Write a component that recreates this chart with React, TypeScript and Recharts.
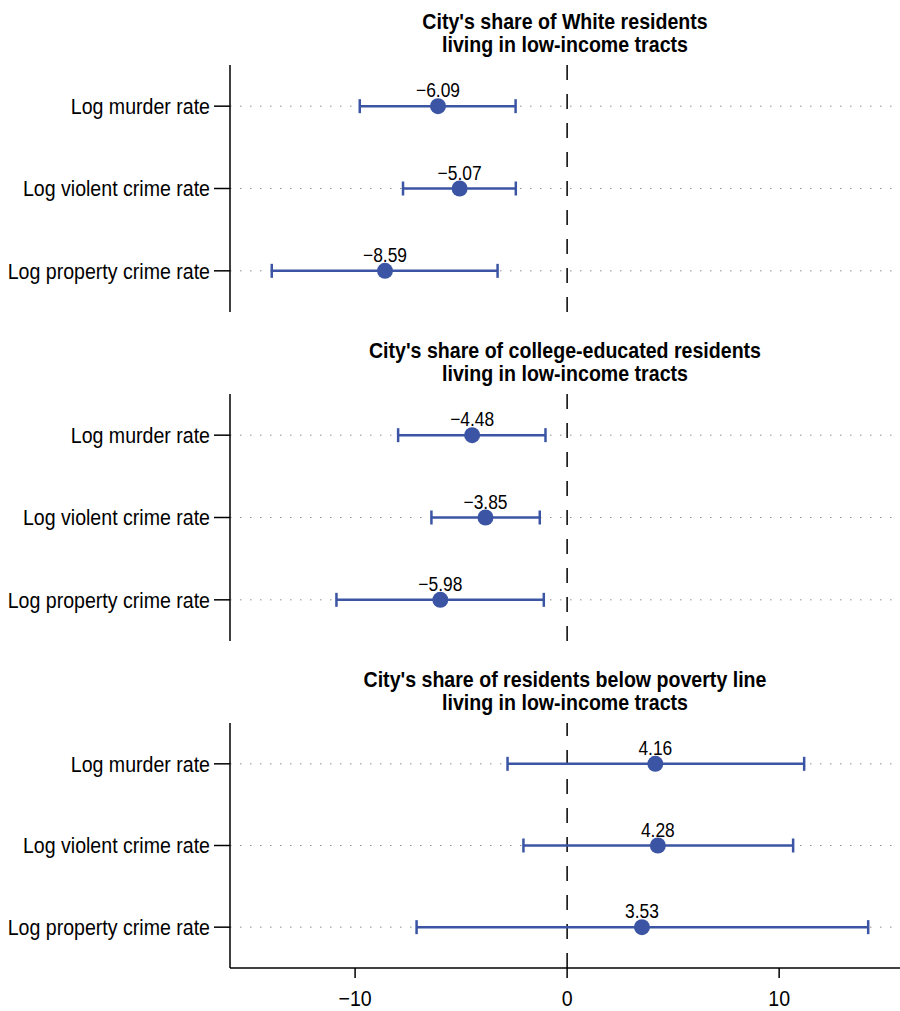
import React from 'react';
import {
  ErrorBar,
  LabelList,
  ReferenceLine,
  Scatter,
  ScatterChart,
  XAxis,
  YAxis
} from 'recharts';

const rowLabels = ['Log murder rate', 'Log violent crime rate', 'Log property crime rate'];
const rowIndex = [0, 1, 2];
const xTicks = [-10, 0, 10];

const whiteEst = [-6.09, -5.07, -8.59];
const whiteLow = [-9.78, -7.74, -13.93];
const whiteHigh = [-2.43, -2.42, -3.28];

const collegeEst = [-4.48, -3.85, -5.98];
const collegeLow = [-7.97, -6.4, -10.88];
const collegeHigh = [-1.02, -1.29, -1.1];

const povertyEst = [4.16, 4.28, 3.53];
const povertyLow = [-2.81, -2.06, -7.1];
const povertyHigh = [11.18, 10.66, 14.2];

const FONT = '"Liberation Sans", Arial, Helvetica, sans-serif';
const BLUE = '#3b55a4';

const minus = (s: string): string => s.replace('-', '\u2212');
const fmt = (v: number): string => minus(v.toFixed(2));

function buildRows(est: number[], low: number[], high: number[]) {
  return est.map((e, i) => ({
    x: e,
    y: i,
    err: [e - low[i], high[i] - e],
    label: fmt(e)
  }));
}

// text is narrower in the original, so squeeze it horizontally
function YTick(props: any): React.ReactElement {
  const { x, y, payload } = props;
  return (
    <g transform={`translate(${x - 2},${y})`}>
      <text transform="scale(0.89,1)" textAnchor="end" dy="0.36em" fontSize={22} fill="#000" fontFamily={FONT}>
        {rowLabels[payload.value]}
      </text>
    </g>
  );
}

function XTick(props: any): React.ReactElement {
  const { x, y, payload } = props;
  return (
    <g transform={`translate(${x},${y})`}>
      <text transform="scale(0.89,1)" textAnchor="middle" dy={26} fontSize={22} fill="#000" fontFamily={FONT}>
        {minus(String(payload.value))}
      </text>
    </g>
  );
}

function ValueLabel(props: any): React.ReactElement {
  const { x, y, width, height, value } = props;
  const cx = x + width / 2;
  const cy = y + height / 2;
  return (
    <g transform={`translate(${cx},${cy - 9})`}>
      <text transform="scale(0.87,1)" textAnchor="middle" fontSize={20} fill="#000" fontFamily={FONT}>
        {value}
      </text>
    </g>
  );
}

function Dot(props: any): React.ReactElement {
  return <circle cx={props.cx} cy={props.cy} r={8} fill={BLUE} />;
}

type PanelProps = {
  top: number;
  height: number;
  title: string[];
  est: number[];
  low: number[];
  high: number[];
  showX: boolean;
};

function Panel({ top, height, title, est, low, high, showX }: Readonly<PanelProps>): React.ReactElement {
  const data = buildRows(est, low, high);
  return (
    <div style={{ position: 'absolute', left: 0, top, width: 900, height }}>
      <div
        style={{
          position: 'absolute',
          left: 230,
          width: 670,
          top: 10,
          textAlign: 'center',
          fontFamily: FONT,
          fontWeight: 'bold',
          fontSize: 22,
          lineHeight: '23px',
          transform: 'scaleX(0.89)',
          transformOrigin: 'center'
        }}
      >
        {title.map((t) => (
          <div key={t}>{t}</div>
        ))}
      </div>
      <ScatterChart
        width={900}
        height={height}
        margin={{ top: 65, right: 0, bottom: showX ? 0 : 17, left: 0 }}
        style={{ fontFamily: FONT }}
      >
        <XAxis
          type="number"
          dataKey="x"
          domain={[-15.9, 15.7]}
          allowDataOverflow
          ticks={xTicks}
          hide={!showX}
          height={43}
          tickSize={10}
          tick={<XTick />}
          axisLine={{ stroke: '#000', strokeWidth: 1.5 }}
          tickLine={{ stroke: '#000', strokeWidth: 1.5 }}
        />
        <YAxis
          type="number"
          dataKey="y"
          domain={[-0.5, 2.5]}
          reversed
          ticks={rowIndex}
          width={230}
          tickSize={16}
          tickMargin={2}
          tick={<YTick />}
          axisLine={{ stroke: '#000', strokeWidth: 1.5 }}
          tickLine={{ stroke: '#000', strokeWidth: 1.5 }}
        />
        {rowIndex.map((i) => (
          <ReferenceLine key={i} y={i} stroke="#8c8c8c" strokeDasharray="1.5 8.5" />
        ))}
        <ReferenceLine x={0} stroke="#000" strokeWidth={1.5} strokeDasharray="15 14" />
        <Scatter data={data} fill={BLUE} shape={<Dot />} isAnimationActive={false}>
          <ErrorBar dataKey="err" direction="x" width={7} stroke={BLUE} strokeWidth={2.5} />
          <LabelList dataKey="label" content={<ValueLabel />} />
        </Scatter>
      </ScatterChart>
    </div>
  );
}

export default function App(): React.ReactElement {
  return (
    <div style={{ position: 'absolute', left: 0, top: 0, width: 900, height: 1011, background: '#fff' }}>
      <Panel
        top={0}
        height={329}
        title={["City's share of White residents", 'living in low-income tracts']}
        est={whiteEst}
        low={whiteLow}
        high={whiteHigh}
        showX={false}
      />
      <Panel
        top={329}
        height={329}
        title={["City's share of college-educated residents", 'living in low-income tracts']}
        est={collegeEst}
        low={collegeLow}
        high={collegeHigh}
        showX={false}
      />
      <Panel
        top={658}
        height={353}
        title={["City's share of residents below poverty line", 'living in low-income tracts']}
        est={povertyEst}
        low={povertyLow}
        high={povertyHigh}
        showX
      />
    </div>
  );
}
